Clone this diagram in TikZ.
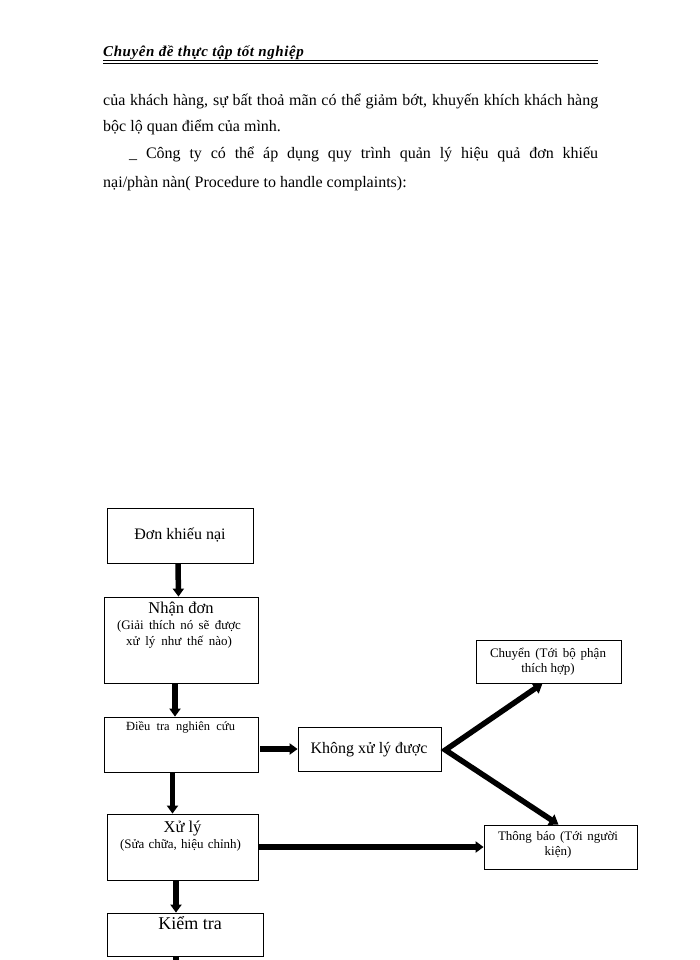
\documentclass[tikz,border=0pt]{standalone}
\usepackage{fontspec}
\setmainfont{Liberation Serif}
\usetikzlibrary{arrows.meta,calc}
\newcommand{\fs}[1]{\fontsize{#1}{#1}\selectfont}
\begin{document}
\begin{tikzpicture}[x=1pt,y=-1pt,
  box/.style={draw=black,line width=0.8pt,rectangle,inner sep=0pt},
  txt/.style={anchor=base,inner sep=0pt},
  ptxt/.style={anchor=base west,inner sep=0pt,font=\fs{16}},
  arr/.style={line width=5.5pt,-{Triangle[length=8pt,width=11pt]}},
]
\useasboundingbox[fill=white] (0,0) rectangle (700,960);

% header
\node[anchor=base west,inner sep=0pt,font=\fs{15}\bfseries\itshape\addfontfeatures{LetterSpace=4}] (hdr) at (103,57) {Chuyên đề thực tập tốt nghiệp};
\draw[line width=0.9pt] (hdr.base west |- 0,60.5) -- (598,60.5);
\draw[line width=1.3pt] (hdr.base west |- 0,63.5) -- (598,63.5);

% paragraph
\node[ptxt] (p1) at (103,106) {\makebox[495pt][s]{của khách hàng, sự bất thoả mãn có thể giảm bớt, khuyến khích khách hàng}};
\node[ptxt] (p2) at (103,132) {bộc lộ quan điểm của mình.};
\node[ptxt] (p3) at (129,159) {\makebox[469pt][s]{\_ Công ty có thể áp dụng quy trình quản lý hiệu quả đơn khiếu}};
\node[ptxt] (p4) at (103,187) {nại/phàn nàn( Procedure to handle complaints):};

% boxes
\node[box,minimum width=146pt,minimum height=55pt] (don) at (180.5,535.5) {};
\node[box,minimum width=154pt,minimum height=86pt] (nhan) at (181,640) {};
\node[box,minimum width=154pt,minimum height=55pt] (dieu) at (181,744.5) {};
\node[box,minimum width=143pt,minimum height=44pt] (khong) at (369.5,749) {};
\node[box,minimum width=145pt,minimum height=43pt] (chuyen) at (548.5,661.5) {};
\node[box,minimum width=153pt,minimum height=44pt] (tb) at (560.5,847) {};
\node[box,minimum width=151pt,minimum height=66pt] (xuly) at (182.5,847) {};
\node[box,minimum width=156pt,minimum height=43pt] (kiem) at (185,934.5) {};

% box texts
\node[txt,font=\fs{16}] (tdon) at (180,539) {Đơn khiếu nại};
\node[txt,font=\fs{16.5}] (tnhan) at (181,613) {Nhận đơn};
\node[txt,font=\fs{13}] (tnhan2) at (179,629) {\makebox[124pt][s]{(Giải thích nó sẽ được}};
\node[txt,font=\fs{13}] (tnhan3) at (179,645) {\makebox[106pt][s]{xử lý như thế nào)}};
\node[txt,font=\fs{12.5}] (tdieu) at (180.5,730) {\makebox[109pt][s]{Điều tra nghiên cứu}};
\node[txt,font=\fs{16}] (tkhong) at (369,753) {Không xử lý được};
\node[txt,font=\fs{13}] (tch1) at (548,657) {\makebox[116pt][s]{Chuyển (Tới bộ phận}};
\node[txt,font=\fs{13}] (tch2) at (548,672) {thích hợp)};
\node[txt,font=\fs{13}] (ttb1) at (558,840) {\makebox[120pt][s]{Thông báo (Tới người}};
\node[txt,font=\fs{13}] (ttb2) at (558,855) {kiện)};
\node[txt,font=\fs{16.5}] (txl1) at (182.5,832) {Xử lý};
\node[txt,font=\fs{13}] (txl2) at (180.5,848) {\makebox[121pt][s]{(Sửa chữa, hiệu chỉnh)}};
\node[txt,font=\fs{18}] (tkiem) at (190,929) {Kiểm tra};

% connectors
\draw[arr] ($(don.south)+(-2.5,0)$) -- ($(nhan.north)+(-2.5,0)$);
\draw[arr] ($(nhan.south)+(-6,0)$) -- ($(dieu.north)+(-6,0)$);
\draw[arr] ($(dieu.south)+(-8.5,0)$) -- ($(xuly.north)+(-10,0)$);
\draw[arr] ($(xuly.south)+(-6.5,0)$) -- ($(kiem.north)+(-9,0)$);
\coordinate (off) at ($(kiem.south)+(-9,10)$);
\draw[line width=5.5pt] ($(kiem.south)+(-9,0)$) -- (off);
\draw[arr] ($(khong.west -| dieu.east)+(2,0)$) -- (khong.west);
\draw[arr] (xuly.east) -- (tb.west);
\coordinate (v) at ($(khong.east)+(4,1)$);
\draw[line width=5.5pt,miter limit=10,{Triangle[length=9pt,width=12pt]}-{Triangle[length=9pt,width=12pt]}]
  ($(chuyen.south)+(-6,0)$) -- (v) -- ($(tb.north)+(-2,0)$);
\end{tikzpicture}
\end{document}
